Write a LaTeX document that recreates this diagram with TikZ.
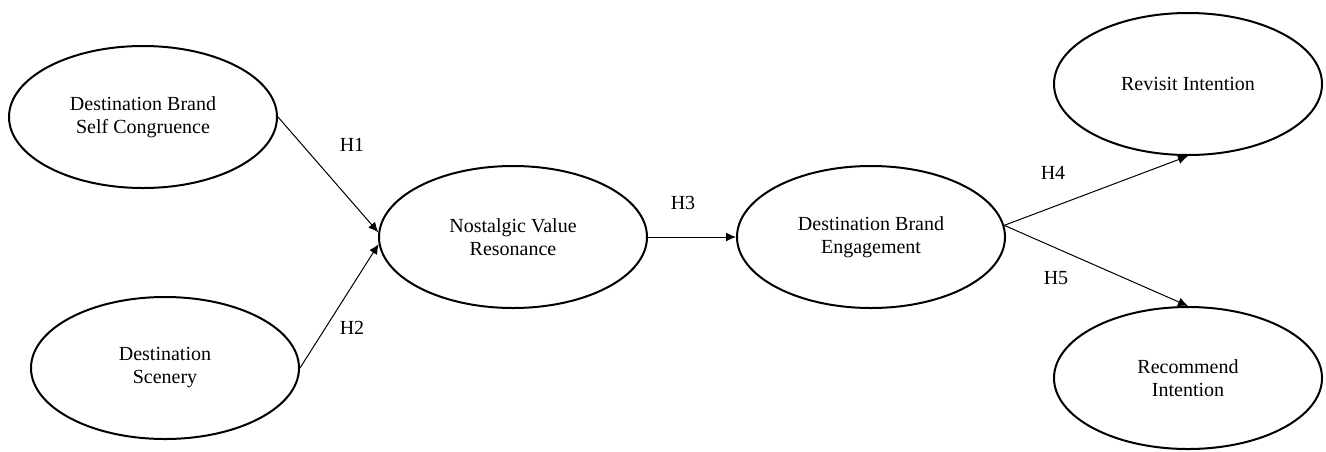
\documentclass[tikz,border=0pt]{standalone}
\usepackage{fontspec}
\setmainfont{Liberation Serif}
\usetikzlibrary{shapes.geometric, arrows.meta}
\tikzstyle{construct} = [
    ellipse,
    draw=black,
    line width=1pt,
    minimum width=134pt,
    minimum height=71pt,
    inner sep=0pt,
    align=center,
    font=\fontsize{10pt}{11.5pt}\selectfont
]
\tikzstyle{hyp} = [
    font=\fontsize{10pt}{11.5pt}\selectfont
]
\tikzstyle{arrow} = [line width=0.5pt,-{Latex[length=5pt,width=4.5pt]}]

\begin{document}
\begin{tikzpicture}[x=0.5pt, y=-0.5pt]

\useasboundingbox (0,0) rectangle (1326,451);

\node (selfcong) [construct] at (143,117) {Destination Brand\\Self Congruence};

\node (scenery) [construct] at (165,368) {Destination\\Scenery};

\node (nostalgic) [construct] at (513,237) {Nostalgic Value\\Resonance};

\node (engage) [construct] at (871,237) {Destination Brand\\Engagement};

\node (revisit) [construct] at (1188,84) {Revisit Intention};

\node (recommend) [construct] at (1188,378) {Recommend\\Intention};

\node (h1) [hyp] at (352,145) {H1};
\node (h2) [hyp] at (352,328) {H2};
\node (h3) [hyp] at (683,203) {H3};
\node (h4) [hyp] at (1053,173) {H4};
\node (h5) [hyp] at (1056,278) {H5};

\draw [arrow] (selfcong.east) -- (nostalgic.178);
\draw [arrow] (scenery.east) -- (nostalgic.183);
\draw [arrow] (nostalgic.east) -- (engage.west);
\draw [arrow] (engage.5) -- (revisit.south);
\draw [arrow] (engage.5) -- (recommend.north);

\end{tikzpicture}
\end{document}
